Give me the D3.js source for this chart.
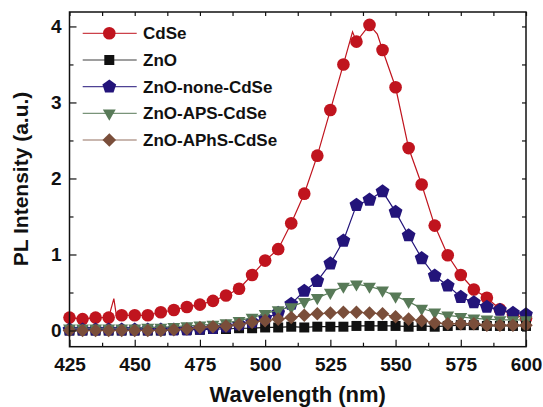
<!DOCTYPE html>
<html><head><meta charset="utf-8">
<script src="https://cdn.jsdelivr.net/npm/d3@7"></script>
<style>body{margin:0;background:#fff}svg{display:block}text{font-family:"Liberation Sans",Arial,sans-serif;font-weight:bold}</style>
</head><body>
<svg id="c" width="543" height="407"></svg>
<script>
const wavelengths = [425,430,435,440,445,450,455,460,465,470,475,480,485,490,495,500,505,510,515,520,525,530,535,540,545,550,555,560,565,570,575,580,585,590,595,600];
const cdse = [0.17,0.15,0.17,0.17,0.20,0.20,0.20,0.24,0.27,0.31,0.34,0.39,0.46,0.55,0.73,0.92,1.07,1.41,1.80,2.30,2.90,3.50,3.80,4.02,3.69,3.20,2.40,1.92,1.38,0.99,0.73,0.54,0.43,0.28,0.21,0.16];
const cdseLineExtra = [[442,0.42],[443,0.19],[533.5,3.93],[543,3.90]];
const zno = [0.00,0.00,0.00,0.00,0.00,0.00,0.00,0.00,0.01,0.01,0.01,0.02,0.02,0.03,0.03,0.04,0.04,0.05,0.04,0.05,0.05,0.05,0.06,0.06,0.06,0.06,0.05,0.06,0.05,0.06,0.07,0.07,0.06,0.06,0.06,0.06];
const noneCdse = [0.01,0.01,0.01,0.01,0.01,0.01,0.01,0.01,0.01,0.01,0.02,0.03,0.05,0.08,0.11,0.16,0.23,0.35,0.52,0.65,0.88,1.18,1.65,1.72,1.83,1.56,1.25,0.95,0.72,0.59,0.44,0.37,0.31,0.27,0.23,0.21];
const apsCdse = [0.03,0.03,0.03,0.03,0.03,0.03,0.04,0.04,0.05,0.06,0.07,0.08,0.10,0.13,0.17,0.22,0.27,0.31,0.38,0.43,0.50,0.58,0.61,0.58,0.53,0.45,0.38,0.29,0.24,0.20,0.18,0.16,0.15,0.14,0.14,0.14];
const aphsCdse = [0.00,0.00,0.00,0.00,0.00,0.00,0.00,0.00,0.01,0.02,0.04,0.05,0.06,0.08,0.11,0.13,0.15,0.17,0.20,0.22,0.23,0.24,0.24,0.23,0.22,0.18,0.15,0.13,0.10,0.09,0.09,0.09,0.07,0.07,0.07,0.07];
const seriesNames = ["CdSe","ZnO","ZnO-none-CdSe","ZnO-APS-CdSe","ZnO-APhS-CdSe"];
const seriesColors = ["#c0141e","#111111","#23147a","#587a58","#7a4e3a"];
const xTicks = [425,450,475,500,525,550,575,600];
const yTicks = [0,1,2,3,4];

const svg = d3.select("#c");
const L=69.5, R=526, T=12, B=346.7;
const x = d3.scaleLinear().domain([425,600]).range([L,R]);
const y = d3.scaleLinear().domain([-0.213,4.19]).range([B,T]);

const pentagon = {draw(ctx,size){const r=Math.sqrt(size/2.378);for(let i=0;i<5;i++){const a=-Math.PI/2+i*2*Math.PI/5;const px=r*Math.cos(a),py=r*Math.sin(a);i?ctx.lineTo(px,py):ctx.moveTo(px,py);}ctx.closePath();}};
const symbols = [
  {type:d3.symbolCircle,size:125,rot:0},
  {type:d3.symbolSquare,size:100,rot:0},
  {type:pentagon,size:125,rot:0},
  {type:d3.symbolTriangle,size:72,rot:180},
  {type:d3.symbolSquare,size:92,rot:45}
];
const seriesVals = [cdse,zno,noneCdse,apsCdse,aphsCdse];

const line = d3.line().x(d=>x(d[0])).y(d=>y(d[1]));
seriesVals.forEach((vals,i)=>{
  let pts = wavelengths.map((w,j)=>[w,vals[j]]);
  if(i===0) pts = pts.concat(cdseLineExtra).sort((a,b)=>a[0]-b[0]);
  svg.append("path").attr("d",line(pts)).attr("fill","none").attr("stroke",seriesColors[i]).attr("stroke-width",1.2);
  const sym = d3.symbol().type(symbols[i].type).size(symbols[i].size);
  svg.append("g").selectAll("path").data(wavelengths.map((w,j)=>[w,vals[j]])).join("path")
    .attr("d",sym).attr("fill",seriesColors[i])
    .attr("transform",d=>`translate(${x(d[0])},${y(d[1])}) rotate(${symbols[i].rot})`);
});

// axes (inward ticks)
const xMinor = xTicks.slice(0,-1).map(v=>v+12.5);
const yMinor = [0.5,1.5,2.5,3.5];
const fmt = d3.format("d");
svg.append("g").attr("transform",`translate(0,${B})`).call(d3.axisBottom(x).tickValues(xTicks).tickSizeInner(-7).tickSizeOuter(0).tickPadding(11).tickFormat(fmt))
  .call(g=>{g.select(".domain").remove();g.selectAll("text").attr("font-size",19).attr("fill","#111");});
svg.append("g").attr("transform",`translate(0,${B})`).call(d3.axisBottom(x).tickValues(xMinor).tickSizeInner(-4).tickSizeOuter(0).tickFormat(""))
  .call(g=>g.select(".domain").remove());
svg.append("g").attr("transform",`translate(${L},0)`).call(d3.axisLeft(y).tickValues(yTicks).tickSizeInner(-7).tickSizeOuter(0).tickPadding(8).tickFormat(fmt))
  .call(g=>{g.select(".domain").remove();g.selectAll("text").attr("font-size",19).attr("fill","#111");});
svg.append("g").attr("transform",`translate(${L},0)`).call(d3.axisLeft(y).tickValues(yMinor).tickSizeInner(-4).tickSizeOuter(0).tickFormat(""))
  .call(g=>g.select(".domain").remove());
svg.append("g").attr("transform",`translate(0,${T})`).call(d3.axisTop(x).tickValues(xTicks.concat(xMinor)).tickSizeInner(-4).tickSizeOuter(0).tickFormat(""))
  .call(g=>g.select(".domain").remove());
svg.append("g").attr("transform",`translate(${R},0)`).call(d3.axisRight(y).tickValues(yTicks.concat(yMinor)).tickSizeInner(-4).tickSizeOuter(0).tickFormat(""))
  .call(g=>g.select(".domain").remove());
svg.selectAll(".tick line").attr("stroke","#111").attr("stroke-width",1.2);
svg.append("rect").attr("x",L).attr("y",T).attr("width",R-L).attr("height",B-T).attr("fill","none").attr("stroke","#111").attr("stroke-width",1.5);

// titles
svg.append("text").attr("x",(L+R)/2).attr("y",402).attr("text-anchor","middle").attr("font-size",22).attr("fill","#111").text("Wavelength (nm)");
svg.append("text").attr("transform","translate(28,179) rotate(-90)").attr("text-anchor","middle").attr("font-size",21).attr("fill","#111").text("PL Intensity (a.u.)");

// legend
const legY = [33.3,60,86.7,113.3,140];
seriesNames.forEach((n,i)=>{
  const g = svg.append("g").attr("transform",`translate(0,${legY[i]})`);
  g.append("line").attr("x1",82.7).attr("x2",136.7).attr("y1",0).attr("y2",0).attr("stroke",seriesColors[i]).attr("stroke-width",1.2).attr("opacity",0.8);
  g.append("path").attr("d",d3.symbol().type(symbols[i].type).size(symbols[i].size)()).attr("fill",seriesColors[i])
    .attr("transform",`translate(109.3,0) rotate(${symbols[i].rot})`);
  g.append("text").attr("x",143).attr("y",0).attr("dy","0.36em").attr("font-size",17).attr("fill","#111").text(n);
});
</script>
</body></html>
